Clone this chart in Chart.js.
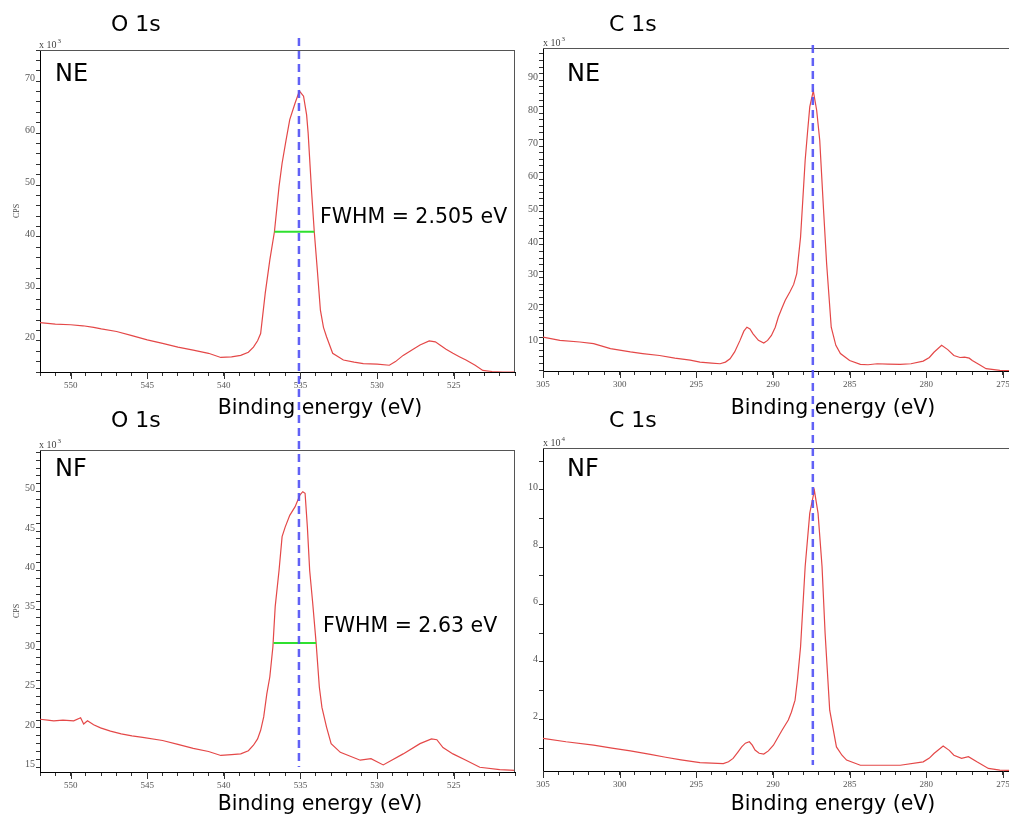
<!DOCTYPE html>
<html>
<head>
<meta charset="utf-8">
<script src="https://cdn.jsdelivr.net/npm/chart.js@4.4.1/dist/chart.umd.min.js"></script>
<style>
  html, body { margin: 0; padding: 0; background: #fff; }
  body { width: 1009px; height: 816px; overflow: hidden; position: relative; }
  canvas { position: absolute; }
</style>
</head>
<body>
<canvas id="oNE" width="520" height="420" style="left:0;top:0"></canvas>
<canvas id="cNE" width="490" height="420" style="left:520px;top:0"></canvas>
<canvas id="oNF" width="520" height="416" style="left:0;top:400px"></canvas>
<canvas id="cNF" width="490" height="416" style="left:520px;top:400px"></canvas>
<script>
// --- data (binding energy in eV, counts in x10^3 / x10^4) ---
const O_NE_EV = [552.0, 551.0, 550.0, 549.2, 548.5, 548.0, 547.0, 546.0, 545.0, 544.0, 543.0, 542.0, 541.0, 540.2,
  539.5, 538.9, 538.4, 538.07, 537.8, 537.6, 537.3, 537.0, 536.7, 536.4, 536.2, 535.95, 535.7, 535.35, 535.07,
  534.8, 534.6, 534.5, 534.27, 534.1, 533.9, 533.7, 533.5, 533.3, 532.9, 532.2, 531.5, 530.9, 530.0, 529.2,
  528.8, 528.3, 527.7, 527.2, 526.6, 526.2, 525.9, 525.5, 525.05, 524.6, 524.2, 523.6, 523.1, 522.5, 521.8, 521.0];
const O_NE_CPS = [23.5, 23.2, 23.1, 22.9, 22.6, 22.3, 21.8, 21.0, 20.2, 19.5, 18.8, 18.2, 17.6, 16.8,
  16.9, 17.2, 17.8, 18.8, 20.0, 21.4, 29.2, 35.6, 41.0, 49.7, 54.2, 58.5, 62.6, 65.8, 68.1,
  67.1, 63.5, 60.0, 48.5, 41.0, 33.6, 25.9, 22.6, 20.8, 17.6, 16.3, 15.9, 15.6, 15.5, 15.3,
  16.0, 17.2, 18.3, 19.2, 20.0, 19.8, 19.2, 18.4, 17.6, 16.9, 16.3, 15.3, 14.3, 14.1, 14.0, 14.0];

const O_NF_EV = [552.0, 551.5, 551.1, 550.5, 549.8, 549.35, 549.15, 548.9, 548.5, 548.05, 547.4, 546.7, 546.0,
  545.3, 544.0, 543.0, 542.0, 541.0, 540.2, 539.5, 538.9, 538.4, 538.07, 537.8, 537.6, 537.4, 537.2, 537.0,
  536.8, 536.65, 536.4, 536.2, 536.0, 535.7, 535.35, 535.03, 534.85, 534.7, 534.55, 534.4, 534.2, 533.98,
  533.77, 533.6, 533.3, 533.0, 532.4, 531.1, 530.4, 529.6, 528.3, 527.2, 526.45, 526.1, 525.7, 525.05,
  524.2, 523.3, 522.0, 521.0];
const O_NF_CPS = [21.1, 21.0, 20.9, 21.0, 20.9, 21.3, 20.5, 20.9, 20.4, 20.0, 19.6, 19.25, 19.0,
  18.8, 18.4, 17.9, 17.4, 17.0, 16.5, 16.6, 16.7, 17.1, 17.8, 18.6, 19.7, 21.4, 24.3, 26.5,
  30.3, 35.4, 40.0, 44.3, 45.5, 47.0, 48.1, 49.6, 50.0, 49.8, 45.5, 40.0, 35.8, 30.8,
  25.2, 22.6, 20.1, 18.0, 16.9, 15.9, 16.1, 15.3, 16.7, 18.0, 18.6, 18.5, 17.5, 16.7,
  15.9, 15.0, 14.7, 14.6];

const C_NE_EV = [305.0, 303.9, 302.6, 301.7, 300.6, 299.3, 298.5, 297.4, 296.4, 295.4, 294.76, 294.0, 293.45,
  293.1, 292.8, 292.5, 292.15, 291.9, 291.7, 291.5, 291.3, 290.95, 290.6, 290.35, 290.1, 289.85, 289.65,
  289.4, 289.2, 288.9, 288.65, 288.45, 288.2, 288.05, 287.9, 287.75, 287.6, 287.37, 287.15, 286.95, 286.7,
  286.5, 286.2, 285.9, 285.6, 285.0, 284.3, 283.8, 283.2, 282.5, 281.7, 281.0, 280.2, 279.8, 279.5, 279.0,
  278.6, 278.2, 277.8, 277.5, 277.2, 277.0, 276.5, 276.1, 275.2, 274.54];
const C_NE_CPS = [12.0, 11.0, 10.5, 10.0, 8.5, 7.5, 7.0, 6.4, 5.6, 5.0, 4.4, 4.1, 3.9,
  4.4, 5.4, 7.5, 11.0, 13.8, 15.0, 14.5, 13.0, 11.0, 10.2, 11.0, 12.5, 15.0, 18.1,
  21.0, 23.2, 25.7, 28.0, 31.3, 42.4, 54.0, 65.7, 74.0, 81.9, 86.8, 80.9, 71.8, 50.5,
  34.3, 15.0, 9.5, 7.0, 4.9, 3.7, 3.6, 3.9, 3.8, 3.7, 3.9, 4.7, 5.8, 7.4, 9.5,
  8.2, 6.4, 5.8, 5.9, 5.6, 4.9, 3.5, 2.4, 1.9, 1.8];

const C_NF_EV = [305.0, 303.5, 301.7, 300.5, 299.3, 298.0, 297.0, 296.0, 294.76, 293.24, 292.9, 292.6, 292.3,
  292.04, 291.8, 291.54, 291.35, 291.17, 290.9, 290.6, 290.3, 289.97, 289.7, 289.4, 289.0, 288.8, 288.56,
  288.4, 288.2, 287.9, 287.6, 287.3, 287.06, 286.8, 286.6, 286.3, 285.86, 285.5, 285.2, 284.3, 283.0,
  281.7, 280.2, 279.8, 279.5, 278.9, 278.5, 278.2, 277.7, 277.25, 276.7, 275.95, 275.2, 274.54];
const C_NF_CPS = [1.34, 1.22, 1.10, 1.00, 0.90, 0.78, 0.68, 0.59, 0.49, 0.46, 0.52, 0.64, 0.85,
  1.04, 1.17, 1.22, 1.10, 0.93, 0.82, 0.79, 0.90, 1.10, 1.35, 1.63, 1.98, 2.25, 2.67,
  3.4, 4.53, 7.33, 9.19, 9.98, 9.19, 7.33, 5.0, 2.32, 1.04, 0.75, 0.58, 0.40, 0.40,
  0.40, 0.52, 0.65, 0.81, 1.07, 0.92, 0.75, 0.64, 0.70, 0.52, 0.29, 0.23, 0.22];

// tick labels
const O_X_TICKS = [550, 545, 540, 535, 530, 525];
const C_X_TICKS = [305, 300, 295, 290, 285, 280, 275];
const O_NE_Y_TICKS = [20, 30, 40, 50, 60, 70];
const C_NE_Y_TICKS = [10, 20, 30, 40, 50, 60, 70, 80, 90];
const O_NF_Y_TICKS = [15, 20, 25, 30, 35, 40, 45, 50];
const C_NF_Y_TICKS = [2, 4, 6, 8, 10];

// reference lines and FWHM markers (eV / counts)
const O_PEAK = 535.1, C_PEAK = 287.4;
const O_NE_FWHM = [536.7, 534.1, 41.0];
const O_NF_FWHM = [536.76, 533.98, 30.8];

const SANS = "'DejaVu Sans', sans-serif";
const SERIF = "'Liberation Serif', 'DejaVu Serif', serif";
const DASH = [8, 5];

// draws frame, long ticks, FWHM, dashed peak line and the texts
const decor = {
  id: 'decor',
  afterDatasetsDraw(chart, args, o) {
    const ctx = chart.ctx, a = chart.chartArea, xs = chart.scales.x;
    ctx.save();
    ctx.strokeStyle = '#555';
    ctx.lineWidth = 1;
    ctx.beginPath();
    ctx.moveTo(a.left, a.top + 0.5); ctx.lineTo(a.right, a.top + 0.5);
    ctx.moveTo(a.right - 0.5, a.top); ctx.lineTo(a.right - 0.5, a.bottom);
    ctx.stroke();

    // longer ticks at labelled energies
    ctx.strokeStyle = '#333';
    ctx.beginPath();
    o.xLabels.forEach(v => {
      const px = Math.round(xs.getPixelForValue(v)) + 0.5;
      ctx.moveTo(px, a.bottom); ctx.lineTo(px, a.bottom + 7);
    });
    ctx.stroke();

    if (o.fwhm) {
      const ys = chart.scales.y;
      const py = ys.getPixelForValue(o.fwhm[2]);
      ctx.strokeStyle = '#2fe02f';
      ctx.lineWidth = 2;
      ctx.beginPath();
      ctx.moveTo(xs.getPixelForValue(o.fwhm[0]), py);
      ctx.lineTo(xs.getPixelForValue(o.fwhm[1]), py);
      ctx.stroke();
      ctx.fillStyle = '#000';
      ctx.font = '20.5px ' + SANS;
      ctx.textBaseline = 'middle';
      ctx.textAlign = 'left';
      ctx.fillText(o.fwhmText, o.fwhmPos[0], o.fwhmPos[1]);
    }

    // dashed peak position line
    const vx = xs.getPixelForValue(o.peak);
    ctx.strokeStyle = 'rgba(80, 80, 245, 0.9)';
    ctx.lineWidth = 2.5;
    ctx.setLineDash(DASH);
    ctx.lineDashOffset = o.dashOffset || 0;
    ctx.beginPath();
    ctx.moveTo(vx, o.lineY[0]); ctx.lineTo(vx, o.lineY[1]);
    ctx.stroke();
    ctx.setLineDash([]);

    ctx.fillStyle = '#000';
    ctx.textBaseline = 'middle';
    ctx.textAlign = 'left';
    ctx.font = '22px ' + SANS;
    ctx.fillText(o.title, o.titlePos[0], o.titlePos[1]);
    ctx.font = '24px ' + SANS;
    ctx.fillText(o.tag, o.tagPos[0], o.tagPos[1]);
    ctx.font = '20.5px ' + SANS;
    ctx.textAlign = 'center';
    ctx.fillText('Binding energy (eV)', o.xTitlePos[0], o.xTitlePos[1]);

    // "x 10^n" multiplier
    ctx.fillStyle = '#444';
    ctx.textAlign = 'left';
    ctx.textBaseline = 'alphabetic';
    ctx.font = '10px ' + SERIF;
    ctx.fillText('x 10', o.expPos[0], o.expPos[1]);
    const w = ctx.measureText('x 10').width;
    ctx.font = '7px ' + SERIF;
    ctx.fillText(o.exp, o.expPos[0] + w + 1, o.expPos[1] - 5);

    if (o.cpsPos) {
      ctx.translate(o.cpsPos[0], o.cpsPos[1]);
      ctx.rotate(-Math.PI / 2);
      ctx.font = '8px ' + SERIF;
      ctx.textAlign = 'center';
      ctx.textBaseline = 'middle';
      ctx.fillText('CPS', 0, 0);
    }
    ctx.restore();
  }
};

function makeChart(id, ev, cps, cfg) {
  const canvas = document.getElementById(id);
  const H = canvas.height, W = canvas.width;
  const area = cfg.area; // [left, right, top, bottom]
  return new Chart(canvas.getContext('2d'), {
    type: 'line',
    data: {
      datasets: [{
        data: ev.map((e, i) => ({ x: e, y: cps[i] })),
        borderColor: 'rgb(228, 72, 72)',
        borderWidth: 1.2,
        pointRadius: 0,
        tension: 0,
        fill: false
      }]
    },
    options: {
      responsive: false,
      animation: false,
      events: [],
      layout: { padding: { left: 0, top: area[2], right: W - area[1], bottom: 0 } },
      scales: {
        x: {
          type: 'linear',
          reverse: true,
          min: cfg.xMin,
          max: cfg.xMax,
          afterFit: s => { s.height = H - area[3]; s.paddingLeft = 0; s.paddingRight = 0; },
          border: { color: '#000', width: 1 },
          grid: { drawOnChartArea: false, drawTicks: true, tickLength: 4, tickColor: '#333' },
          ticks: {
            stepSize: 1,
            autoSkip: false,
            maxRotation: 0,
            includeBounds: false,
            padding: 4,
            color: '#555',
            font: { family: SERIF, size: 9 },
            callback: v => cfg.xLabels.includes(Math.round(v)) && Math.abs(v - Math.round(v)) < 1e-6 ? String(Math.round(v)) : ''
          }
        },
        y: {
          type: 'linear',
          min: cfg.yMin,
          max: cfg.yMax,
          afterFit: s => { s.width = area[0]; s.paddingTop = 0; s.paddingBottom = 0; },
          border: { color: '#000', width: 1 },
          grid: { drawOnChartArea: false, drawTicks: true, tickLength: 4, tickColor: '#333' },
          ticks: {
            stepSize: cfg.yStep,
            autoSkip: false,
            includeBounds: false,
            padding: 1,
            labelOffset: -3,
            color: '#555',
            font: { family: SERIF, size: 10 },
            callback: v => cfg.yLabels.includes(Math.round(v)) && Math.abs(v - Math.round(v)) < 1e-6 ? String(Math.round(v)) : ''
          }
        }
      },
      plugins: {
        legend: { display: false },
        tooltip: { enabled: false },
        decor: cfg.decor
      }
    },
    plugins: [decor]
  });
}

// top left: O 1s, NE
makeChart('oNE', O_NE_EV, O_NE_CPS, {
  area: [40, 515, 50, 372], xMin: 521, xMax: 552, xLabels: O_X_TICKS,
  yMin: 14, yMax: 76, yStep: 2, yLabels: O_NE_Y_TICKS,
  decor: {
    xLabels: O_X_TICKS, peak: O_PEAK, lineY: [38, 410], dashOffset: 0,
    title: 'O 1s', titlePos: [111, 25], tag: 'NE', tagPos: [55, 75], xTitlePos: [320, 409],
    exp: '3', expPos: [39, 48], cpsPos: [17, 211],
    fwhm: O_NE_FWHM, fwhmText: 'FWHM = 2.505 eV', fwhmPos: [320, 218]
  }
});

// top right: C 1s, NE
makeChart('cNE', C_NE_EV, C_NE_CPS, {
  area: [23, 490, 48, 371], xMin: 274.54, xMax: 305, xLabels: C_X_TICKS,
  yMin: 1.7, yMax: 99.8, yStep: 2, yLabels: C_NE_Y_TICKS,
  decor: {
    xLabels: C_X_TICKS, peak: C_PEAK, lineY: [45, 410], dashOffset: 0,
    title: 'C 1s', titlePos: [89, 25], tag: 'NE', tagPos: [47, 75], xTitlePos: [313, 409],
    exp: '3', expPos: [23, 46]
  }
});

// bottom left: O 1s, NF
makeChart('oNF', O_NF_EV, O_NF_CPS, {
  area: [40, 515, 50, 372], xMin: 521, xMax: 552, xLabels: O_X_TICKS,
  yMin: 14.4, yMax: 55.3, yStep: 1, yLabels: O_NF_Y_TICKS,
  decor: {
    xLabels: O_X_TICKS, peak: O_PEAK, lineY: [10, 367], dashOffset: (410 - 38) % 13,
    title: 'O 1s', titlePos: [111, 21], tag: 'NF', tagPos: [55, 70], xTitlePos: [320, 405],
    exp: '3', expPos: [39, 48], cpsPos: [17, 211],
    fwhm: O_NF_FWHM, fwhmText: 'FWHM = 2.63 eV', fwhmPos: [323, 227]
  }
});

// bottom right: C 1s, NF
makeChart('cNF', C_NF_EV, C_NF_CPS, {
  area: [23, 490, 48, 371], xMin: 274.54, xMax: 305, xLabels: C_X_TICKS,
  yMin: 0.2, yMax: 11.46, yStep: 1, yLabels: C_NF_Y_TICKS,
  decor: {
    xLabels: C_X_TICKS, peak: C_PEAK, lineY: [10, 365], dashOffset: (410 - 45) % 13,
    title: 'C 1s', titlePos: [89, 21], tag: 'NF', tagPos: [47, 70], xTitlePos: [313, 405],
    exp: '4', expPos: [23, 46]
  }
});
</script>
</body>
</html>
